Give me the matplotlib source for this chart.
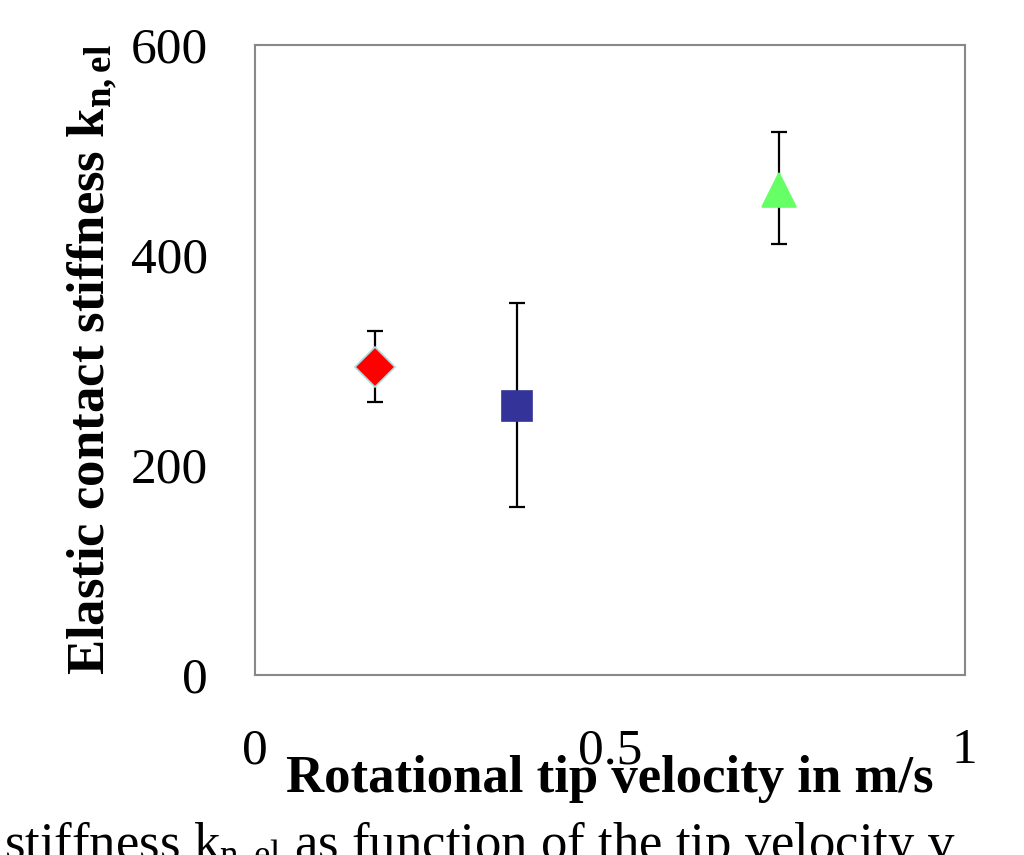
import numpy as np
import matplotlib.pyplot as plt

plt.rcParams['font.family'] = ['Liberation Serif', 'DejaVu Serif']
plt.rcParams['mathtext.fontset'] = 'custom'
plt.rcParams['mathtext.rm'] = 'Liberation Serif'
plt.rcParams['mathtext.it'] = 'Liberation Serif'
plt.rcParams['mathtext.bf'] = 'Liberation Serif:bold'

# tip velocity (m/s), stiffness and error bar limits
velocity = [0.169, 0.369, 0.739]
stiffness = [293, 256, 462]
upper = [328, 354, 517]
lower = [260, 160, 410]
markers = ['D', 's', '^']
colors = ['#ff0000', '#333399', '#66ff66']
edges = ['#aadddd', '#333399', '#66ff66']
sizes = [20, 22, 24]

x_ticks = [0, 0.5, 1]
x_tick_labels = ['0', '0.5', '1']
y_ticks = [0, 200, 400, 600]

fig = plt.figure(figsize=(10.24, 8.55), dpi=100)
ax = fig.add_axes([0.249, 0.2105, 0.693, 0.737])

for v, k, hi, lo, m, c, ec, ms in zip(velocity, stiffness, upper, lower,
                                       markers, colors, edges, sizes):
    err = np.array([[k - lo], [hi - k]])
    ax.errorbar([v], [k], yerr=err, fmt='none', ecolor='black',
                elinewidth=1.6, capsize=6, capthick=1.6, zorder=2)
    ax.plot([v], [k], marker=m, markersize=ms, color=c,
            markeredgecolor=ec, markeredgewidth=1.2, linestyle='none',
            zorder=3)

ax.set_xlim(0, 1)
ax.set_ylim(0, 600)
ax.set_xticks(x_ticks)
ax.set_xticklabels(x_tick_labels)
ax.set_yticks(y_ticks)
ax.tick_params(length=0, labelsize=37)
ax.tick_params(axis='x', pad=38)
ax.tick_params(axis='y', pad=34)

for s in ax.spines.values():
    s.set_color('#888888')
    s.set_linewidth(1.5)

ax.set_xlabel('Rotational tip velocity in m/s', fontsize=38,
              fontweight='bold', labelpad=-14)
ax.set_ylabel(r'Elastic contact stiffness $\mathbf{k}_{\mathbf{n,el}}$',
              fontsize=38, fontweight='bold', labelpad=9)

fig.text(0.004, 0.042, r'stiffness k$_{n,el}$ as function of the tip velocity v',
         fontsize=38, va='top', ha='left')

fig.savefig('out.png', dpi=100)
